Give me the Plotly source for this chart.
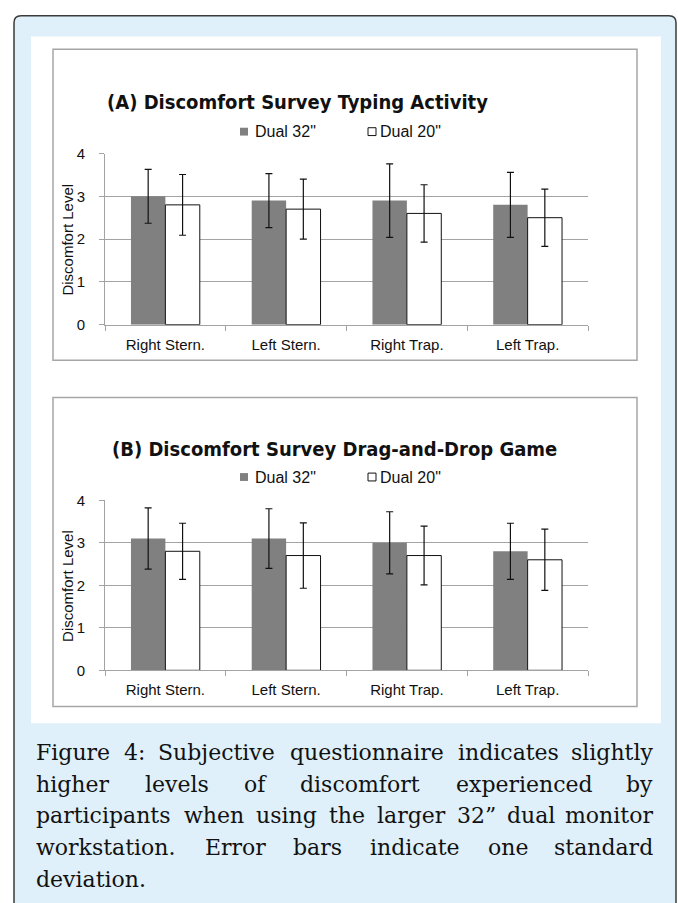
import plotly.graph_objects as go

W, H = 678, 903

# ---- data ---------------------------------------------------------------
regions = ["Right Stern.", "Left Stern.", "Right Trap.", "Left Trap."]
series_names = ['Dual 32"', 'Dual 20"']

typing_32 = [3.0, 2.9, 2.9, 2.8]
typing_32_sd = [0.63, 0.63, 0.86, 0.76]
typing_20 = [2.8, 2.7, 2.6, 2.5]
typing_20_sd = [0.71, 0.70, 0.67, 0.67]

dragdrop_32 = [3.1, 3.1, 3.0, 2.8]
dragdrop_32_sd = [0.72, 0.70, 0.73, 0.66]
dragdrop_20 = [2.8, 2.7, 2.7, 2.6]
dragdrop_20_sd = [0.66, 0.77, 0.69, 0.72]

y_ticks = [0, 1, 2, 3, 4]
y_title = "Discomfort Level"

panel_titles = [
    "(A) Discomfort Survey Typing Activity",
    "(B) Discomfort Survey Drag-and-Drop Game",
]

caption_lines = [
    "Figure 4: Subjective questionnaire indicates slightly",
    "higher levels of discomfort experienced by",
    "participants when using the larger 32\u201d dual monitor",
    "workstation. Error bars indicate one standard",
    "deviation.",
]
caption_y = [758, 790, 822, 855, 887]

# ---- helpers (pixel -> paper) -------------------------------------------
def px(x):
    return x / W


def py(y):
    return 1 - y / H


DARK = "#808080"
GRID = "#a3a3a3"
SANS = "Liberation Sans, Arial, sans-serif"
SERIF = "DejaVu Serif, serif"
CAP_SIZE = 22

# approximate DejaVu Serif advance widths (em) used to justify the caption
_EM = {
    "a": .596, "b": .640, "c": .560, "d": .640, "e": .592, "f": .370,
    "g": .640, "h": .644, "i": .320, "j": .320, "k": .610, "l": .320,
    "m": .948, "n": .644, "o": .602, "p": .640, "q": .640, "r": .478,
    "s": .513, "t": .402, "u": .644, "v": .565, "w": .856, "x": .564,
    "y": .565, "E": .715, "F": .720, "S": .685, "W": 1.03, ".": .318,
    ":": .337, "2": .636, "3": .636, "4": .636, "\u201d": .460,
}


def text_width(word, size):
    return sum(_EM.get(ch, .6) for ch in word) * size * 1.02


def justify(line, left, right, size):
    words = line.split()
    if len(words) == 1:
        return [(words[0], left, "left")]
    widths = [text_width(w, size) for w in words]
    gap = (right - left - sum(widths)) / (len(words) - 1)
    out, x = [], left
    for k, (w, wd) in enumerate(zip(words, widths)):
        if k == len(words) - 1:
            out.append((w, right, "right"))
        else:
            out.append((w, x, "left"))
        x += wd + gap
    return out


panels = [
    dict(title=panel_titles[0], v32=typing_32, s32=typing_32_sd,
         v20=typing_20, s20=typing_20_sd,
         zero=321.7, top=147.3, box=(53, 41, 637, 358),
         title_xy=(297, 95), legend_y=125, ytitle_y=235, ax=""),
    dict(title=panel_titles[1], v32=dragdrop_32, s32=dragdrop_32_sd,
         v20=dragdrop_20, s20=dragdrop_20_sd,
         zero=674, top=500.7, box=(53, 396, 637, 711),
         title_xy=(334, 448), legend_y=477, ytitle_y=588, ax="2"),
]

fig = go.Figure()
shapes = []
annotations = []

# outer light-blue frame with rounded top corners
x0, y0, x1, y1, r = 14, 7, 676, 915, 7
frame_path = (
    f"M {px(x0)},{py(y1)} L {px(x0)},{py(y0 + r)} "
    f"Q {px(x0)},{py(y0)} {px(x0 + r)},{py(y0)} "
    f"L {px(x1 - r)},{py(y0)} Q {px(x1)},{py(y0)} {px(x1)},{py(y0 + r)} "
    f"L {px(x1)},{py(y1)} Z"
)
shapes.append(dict(type="path", xref="paper", yref="paper", path=frame_path,
                   fillcolor="#dff0fa", line=dict(color="#3a3a3a", width=1.5),
                   layer="below"))
# white panel holding both charts
shapes.append(dict(type="rect", xref="paper", yref="paper",
                   x0=px(31), x1=px(661), y0=py(728), y1=py(28),
                   fillcolor="white", line=dict(width=0), layer="below"))

for p in panels:
    xa = "x" + p["ax"]
    ya = "y" + p["ax"]
    err = dict(type="data", color="#111111", thickness=1.2, width=3.5)
    fig.add_trace(go.Bar(
        x=regions, y=p["v32"], name=series_names[0],
        error_y=dict(err, array=p["s32"]),
        marker=dict(color=DARK, line=dict(width=0)),
        xaxis=xa, yaxis=ya, showlegend=False,
    ))
    fig.add_trace(go.Bar(
        x=regions, y=p["v20"], name=series_names[1],
        error_y=dict(err, array=p["s20"]),
        marker=dict(color="white", line=dict(color="#111111", width=1)),
        xaxis=xa, yaxis=ya, showlegend=False,
    ))

    key = p["ax"]
    fig.update_layout({
        f"xaxis{key}": dict(
            domain=[px(105), px(588)], anchor=ya,
            type="category", showline=True, linecolor=GRID, linewidth=1,
            ticks="outside", tickson="boundaries", ticklen=5,
            tickcolor=GRID, showgrid=False, ticklabelstandoff=6,
            tickfont=dict(family=SANS, size=15, color="#111111"),
        ),
        f"yaxis{key}": dict(
            domain=[py(p["zero"]), py(p["top"])], anchor=xa,
            range=[0, 4], tickvals=y_ticks, showline=True, linecolor=GRID,
            linewidth=1, ticks="outside", ticklen=5, tickcolor=GRID,
            showgrid=True, gridcolor=GRID, gridwidth=1, zeroline=False,
            ticklabelstandoff=11,
            tickfont=dict(family=SANS, size=15, color="#111111"),
        ),
    })

    # chart frame
    bx0, by0, bx1, by1 = p["box"]
    shapes.append(dict(type="rect", xref="paper", yref="paper",
                       x0=px(bx0), x1=px(bx1), y0=py(by1), y1=py(by0),
                       line=dict(color="#a6a6a6", width=1.5), layer="below"))

    # chart title
    tx, ty = p["title_xy"]
    annotations.append(dict(
        text=f"<b>{p['title']}</b>", x=px(tx), y=py(ty), xref="paper",
        yref="paper", xanchor="center", yanchor="middle", showarrow=False,
        font=dict(family="DejaVu Sans Condensed, DejaVu Sans", size=20,
                  color="#111111"),
    ))

    # legend row
    ly = p["legend_y"]
    shapes.append(dict(type="rect", xref="paper", yref="paper",
                       x0=px(240), x1=px(248), y0=py(ly + 4), y1=py(ly - 4),
                       fillcolor=DARK, line=dict(width=0)))
    shapes.append(dict(type="rect", xref="paper", yref="paper",
                       x0=px(368), x1=px(376), y0=py(ly + 4), y1=py(ly - 4),
                       fillcolor="white", line=dict(color="#111111", width=1)))
    for name, lx in zip(series_names, (253, 378)):
        annotations.append(dict(
            text=name, x=px(lx), y=py(ly), xref="paper", yref="paper",
            xanchor="left", yanchor="middle", showarrow=False,
            font=dict(family=SANS, size=16, color="#111111"),
        ))

    # y-axis title
    annotations.append(dict(
        text=y_title, x=px(68), y=py(p["ytitle_y"]), xref="paper",
        yref="paper", xanchor="center", yanchor="middle", textangle=-90,
        showarrow=False, font=dict(family=SANS, size=15, color="#111111"),
    ))

# justified caption below the charts
for line, cy in zip(caption_lines, caption_y):
    for w, wx, anchor in justify(line, 34, 655, CAP_SIZE):
        annotations.append(dict(
            text=w, x=px(wx), y=py(cy), xref="paper", yref="paper",
            xanchor=anchor, yanchor="middle", showarrow=False,
            font=dict(family=SERIF, size=CAP_SIZE, color="#111111"),
        ))

fig.update_layout(
    width=W, height=H, autosize=False,
    margin=dict(l=0, r=0, t=0, b=0),
    paper_bgcolor="white", plot_bgcolor="rgba(0,0,0,0)",
    barmode="group", bargap=0.43, bargroupgap=0,
    shapes=shapes, annotations=annotations,
)

fig.write_html("out.html")
